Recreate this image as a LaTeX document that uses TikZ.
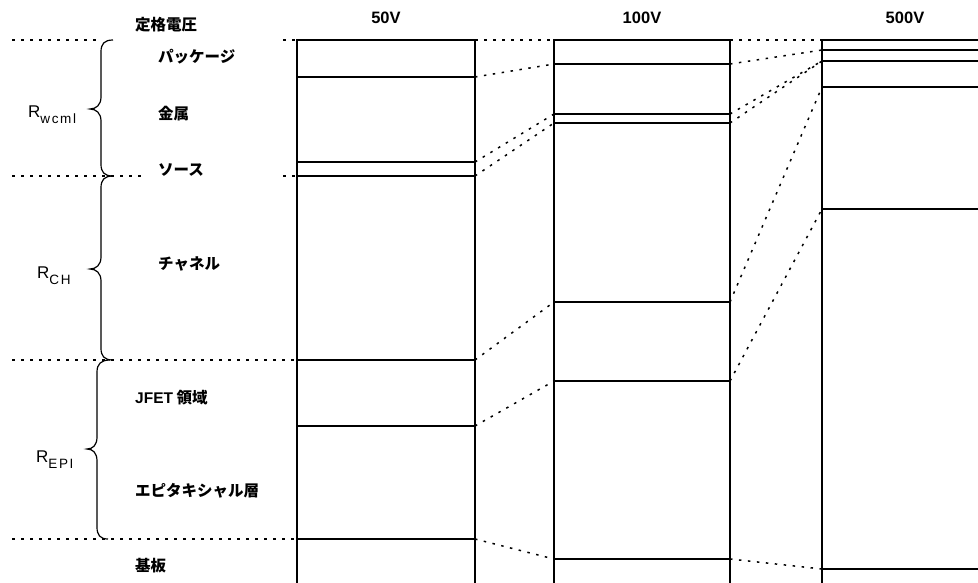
\documentclass[tikz,border=0pt]{standalone}
\usepackage{fontspec}
\setmainfont{Liberation Sans}
\newfontfamily\jp{Noto Sans CJK JP}
\begin{document}
\begin{tikzpicture}[x=1pt,y=-1pt,
  colbox/.style={line width=1.6pt},
  sepline/.style={line width=1.6pt},
  dotline/.style={line width=1.5pt, dash pattern=on 2.5pt off 6.5pt},
  jlab/.style={anchor=west, inner sep=0pt, font=\jp\bfseries\fontsize{15.5}{18}\selectfont},
  head/.style={inner sep=0pt, font=\bfseries\fontsize{16.5}{20}\selectfont},
  rlab/.style={anchor=base west, inner sep=0pt, font=\fontsize{17}{20}\selectfont},
  bracepath/.style={line width=1.2pt},
]
\useasboundingbox (0,0) rectangle (978,582);
\clip (0,0) rectangle (978,582);

% headers
\node[head, font=\jp\bfseries\fontsize{15.5}{18}\selectfont] (hdr) at (166,25) {定格電圧};
\node[head] (h50) at (386,18) {50V};
\node[head] (h100) at (642,18) {100V};
\node[head] (h500) at (905,18) {500V};

% layer labels
\node[jlab] (pkg) at (158,57) {パッケージ};
\node[jlab] (met) at (158,114) {金属};
\node[jlab] (src) at (158,170) {ソース};
\node[jlab] (chn) at (158,264) {チャネル};
\node[jlab] (jfet) at (135,398) {{\fontspec{Liberation Sans}\bfseries JFET} 領域};
\node[jlab] (epi) at (135,491) {エピタキシャル層};
\node[jlab] (sub) at (135,566) {基板};

% R labels
\newcommand{\subtxt}[1]{\raisebox{-6.5pt}{\fontsize{13.5}{15}\selectfont\addfontfeature{LetterSpace=12}#1}}
\node[rlab] (rw) at (28,117) {R\subtxt{wcml}};
\node[rlab] (rch) at (37,278) {R\subtxt{CH}};
\node[rlab] (repi) at (36,462) {R\subtxt{EPI}};

% braces
\draw[bracepath] (113,40) .. controls (104,40) and (101,44) .. (101,52) -- (101,97)
  .. controls (101,105) and (96,109) .. (90,109) .. controls (96,109) and (101,113) .. (101,121)
  -- (101,164) .. controls (101,172) and (104,176) .. (113,176);
\draw[bracepath] (113,176) .. controls (104,176) and (101,180) .. (101,188) -- (101,257)
  .. controls (101,265) and (96,269) .. (90,269) .. controls (96,269) and (101,273) .. (101,281)
  -- (101,348) .. controls (101,356) and (104,360) .. (113,360);
\draw[bracepath] (110,360) .. controls (101,360) and (97,364) .. (97,372) -- (97,437)
  .. controls (97,445) and (93,449) .. (87,449) .. controls (93,449) and (97,453) .. (97,461)
  -- (97,527) .. controls (97,535) and (100,539) .. (108,539);

% column coordinates
\foreach \n/\y in {0/40,1/77,2/162,3/176,4/360,5/426,6/539}{
  \coordinate (aL\n) at (297,\y); \coordinate (aR\n) at (475,\y);}
\foreach \n/\y in {0/40,1/64,2/114,3/123,4/302,5/381,6/559}{
  \coordinate (bL\n) at (554,\y); \coordinate (bR\n) at (730,\y);}
\foreach \n/\y in {0/40,1/50,2/61,3/87,4/209,5/569}{
  \coordinate (cL\n) at (822,\y); \coordinate (cR\n) at (1000,\y);}

% columns
\draw[colbox] (297,600) -- (aL0) -- (aR0) -- (475,600);
\draw[colbox] (554,600) -- (bL0) -- (bR0) -- (730,600);
\draw[colbox] (822,600) -- (cL0) -- (cR0);
\foreach \n in {1,...,6}{\draw[sepline] (aL\n) -- (aR\n); \draw[sepline] (bL\n) -- (bR\n);}
\foreach \n in {1,...,5}{\draw[sepline] (cL\n) -- (cR\n);}

% left dotted guides
\coordinate (g0a) at (12,40); \coordinate (g0b) at (100,40); \coordinate (g0c) at (283,40);
\coordinate (g3a) at (12,176); \coordinate (g3b) at (143,176); \coordinate (g3c) at (283,176);
\coordinate (g4a) at (12,360); \coordinate (g6a) at (12,539);
\draw[dotline] (g0a) -- (g0b);
\draw[dotline] (g0c) -- (aL0);
\draw[dotline] (g3a) -- (g3b);
\draw[dotline] (g3c) -- (aL3);
\draw[dotline] (g4a) -- (aL4);
\draw[dotline] (g6a) -- (aL6);

% connectors 50V -> 100V
\draw[dotline] (aR0) -- (bL0);
\draw[dotline] (aR1) -- (bL1);
\draw[dotline] (aR2) -- (bL2);
\draw[dotline] (aR3) -- (bL3);
\draw[dotline] (aR4) -- (bL4);
\draw[dotline] (aR5) -- (bL5);
\draw[dotline] (aR6) -- (bL6);
% connectors 100V -> 500V
\draw[dotline] (bR0) -- (cL0);
\draw[dotline] (bR1) -- (cL1);
\draw[dotline] (bR2) -- (cL2);
\draw[dotline] (bR3) -- (cL2);
\draw[dotline] (bR4) -- (cL3);
\draw[dotline] (bR5) -- (cL4);
\draw[dotline] (bR6) -- (cL5);
\end{tikzpicture}
\end{document}
